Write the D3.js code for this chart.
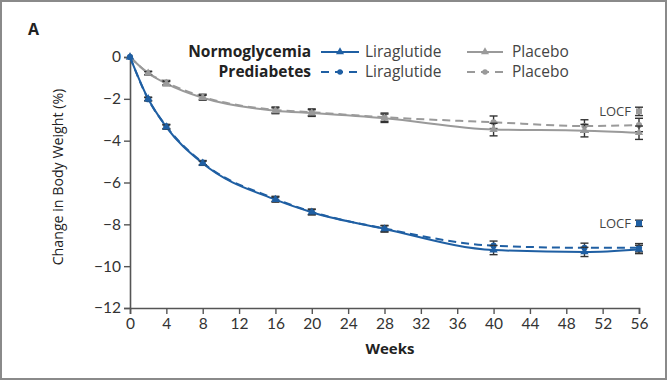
<!DOCTYPE html>
<html><head><meta charset="utf-8">
<script src="https://cdn.jsdelivr.net/npm/d3@7"></script>
<style>
body{margin:0;background:#fff;}
svg{display:block;font-family:Lato,"Open Sans",sans-serif;}
</style></head>
<body><svg id="c" width="668" height="382"></svg>
<script>
const weeks = [0, 2, 4, 8, 16, 20, 28, 40, 50, 56];
const liraNormo = [0, -2.0, -3.35, -5.08, -6.82, -7.42, -8.22, -9.23, -9.32, -9.2];
const liraPre   = [0, -2.02, -3.32, -5.05, -6.78, -7.4, -8.2, -9.02, -9.12, -9.12];
const placNormo = [0, -0.78, -1.27, -1.95, -2.57, -2.68, -2.93, -3.47, -3.52, -3.62];
const placPre   = [0, -0.76, -1.22, -1.9, -2.53, -2.64, -2.88, -3.12, -3.3, -3.25];
const liraErr = [0, 0.08, 0.1, 0.1, 0.12, 0.13, 0.15, 0.22, 0.22, 0.2];
const placErr = [0, 0.08, 0.1, 0.12, 0.14, 0.16, 0.2, 0.3, 0.3, 0.32];
const locfWeek = 56;
const liraLOCF = -7.95, liraLOCFErr = 0.15;
const placLOCF = -2.6, placLOCFErr = 0.2;
const xTicks = [0, 4, 8, 12, 16, 20, 24, 28, 32, 36, 40, 44, 48, 52, 56];
const yTicks = [0, -2, -4, -6, -8, -10, -12];
const legendRows = ["Normoglycemia", "Prediabetes"];
const legendDrugs = ["Liraglutide", "Placebo"];

const BLUE = "#1f5fa3", GRAY = "#9a9a9a", TXT = "#333";
const OS = "'Open Sans', sans-serif";
const svg = d3.select("#c");
svg.append("rect").attr("x",1).attr("y",1).attr("width",665).attr("height",378)
  .attr("fill","#fff").attr("stroke","#8a8a8a").attr("stroke-width",2);

const x = d3.scaleLinear().domain([0,56]).range([130,639]);
const y = d3.scaleLinear().domain([-12,0]).range([308,57]);

// axes
const xa = svg.append("g").attr("transform","translate(0,308)")
  .call(d3.axisBottom(x).tickValues(xTicks).tickSize(6).tickPadding(4).tickFormat(d3.format("d")));
const ya = svg.append("g").attr("transform","translate(130,0)")
  .call(d3.axisLeft(y).tickValues(yTicks).tickSize(6).tickPadding(3)
    .tickFormat(d => d < 0 ? "\u2212" + Math.abs(d) : d));
[xa, ya].forEach(g => {
  g.select(".domain").attr("stroke","#555").attr("stroke-width",1.6);
  g.selectAll(".tick line").attr("stroke","#555").attr("stroke-width",1.4);
  g.selectAll(".tick text").attr("fill",TXT).style("font-size","15.5px").style("font-family","Lato, sans-serif");
});

svg.append("text").attr("x",28).attr("y",35).text("A")
  .style("font-weight","bold").style("font-size","16px").style("font-family",OS).attr("fill","#222");
svg.append("text").attr("transform","translate(63,177) rotate(-90)").attr("text-anchor","middle")
  .text("Change in Body Weight (%)").style("font-size","14.2px").style("font-family",OS).attr("fill","#222");
svg.append("text").attr("x",390).attr("y",354).attr("text-anchor","middle")
  .text("Weeks").style("font-size","15px").style("font-weight","bold").style("font-family",OS).attr("fill","#222");

const curve = d3.curveMonotoneX;
function series(vals, err, color, dashed, shape){
  const data = weeks.map((w,i)=>({w, v: vals[i], e: err[i]}));
  const line = d3.line().x(d=>x(d.w)).y(d=>y(d.v)).curve(curve);
  svg.append("path").datum(data).attr("d",line).attr("fill","none")
    .attr("stroke",color).attr("stroke-width",2)
    .attr("stroke-dasharray", dashed ? "8,5" : null);
  const g = svg.append("g");
  data.forEach(d => {
    if (d.e > 0) {
      const y1 = y(d.v + d.e), y2 = y(d.v - d.e);
      g.append("line").attr("x1",x(d.w)).attr("x2",x(d.w)).attr("y1",y1).attr("y2",y2).attr("stroke","#333").attr("stroke-width",1.4);
      g.append("line").attr("x1",x(d.w)-4).attr("x2",x(d.w)+4).attr("y1",y1).attr("y2",y1).attr("stroke","#333").attr("stroke-width",1.4);
      g.append("line").attr("x1",x(d.w)-4).attr("x2",x(d.w)+4).attr("y1",y2).attr("y2",y2).attr("stroke","#333").attr("stroke-width",1.4);
    }
    g.append("path").attr("transform",`translate(${x(d.w)},${y(d.v)})`)
      .attr("d", d3.symbol().type(shape).size(30)()).attr("fill",color);
  });
}
series(placPre, placErr, GRAY, true, d3.symbolCircle);
series(placNormo, placErr, GRAY, false, d3.symbolTriangle);
series(liraPre, liraErr, BLUE, true, d3.symbolCircle);
series(liraNormo, liraErr, BLUE, false, d3.symbolTriangle);

// LOCF
[[placLOCF, placLOCFErr, GRAY],[liraLOCF, liraLOCFErr, BLUE]].forEach(([v,e,c]) => {
  const cx = x(locfWeek), y1 = y(v+e), y2 = y(v-e);
  svg.append("line").attr("x1",cx).attr("x2",cx).attr("y1",y1).attr("y2",y2).attr("stroke","#333").attr("stroke-width",1.4);
  [y1,y2].forEach(yy => svg.append("line").attr("x1",cx-4).attr("x2",cx+4).attr("y1",yy).attr("y2",yy).attr("stroke","#333").attr("stroke-width",1.4));
  svg.append("rect").attr("x",cx-3).attr("y",y(v)-3).attr("width",6).attr("height",6).attr("fill",c);
  svg.append("text").attr("x",cx-8).attr("y",y(v)+4.5).attr("text-anchor","end")
    .text("LOCF").style("font-size","13px").style("font-family",OS).attr("fill","#444");
});

// legend
const rowY = [52, 72];
legendRows.forEach((r,i) => {
  svg.append("text").attr("x",311).attr("y",rowY[i]+5).attr("text-anchor","end")
    .text(r).style("font-size","15.5px").style("font-weight","bold").style("font-family",OS).attr("fill","#222");
  [[321,359,BLUE,365],[467,503,GRAY,512]].forEach(([a,b,c,tx],j) => {
    svg.append("line").attr("x1",a).attr("x2",b).attr("y1",rowY[i]).attr("y2",rowY[i])
      .attr("stroke",c).attr("stroke-width",2).attr("stroke-dasharray", i===1 ? "8,6" : null);
    svg.append("path").attr("transform",`translate(${(a+b)/2},${rowY[i]})`)
      .attr("d", d3.symbol().type(i===0 ? d3.symbolTriangle : d3.symbolCircle).size(i===0?28:24)()).attr("fill",c);
    svg.append("text").attr("x",tx).attr("y",rowY[i]+5).text(legendDrugs[j])
      .style("font-size","15.5px").style("font-family",OS).attr("fill","#444");
  });
});
</script></body></html>
